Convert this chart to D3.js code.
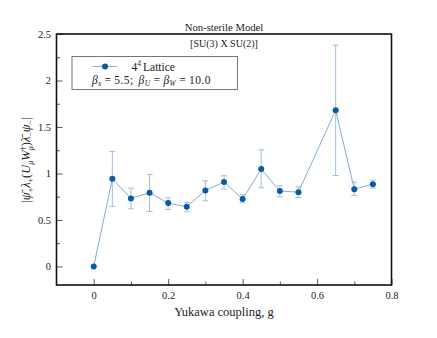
<!DOCTYPE html>
<html lang="en">
<head>
    <meta charset="UTF-8">
    <title>Non-sterile Model</title>
    <script src="https://d3js.org/d3.v7.min.js"></script>
    <style>
        body{ margin:0; background:#fff; }
        text{ font-family: "Liberation Serif", "DejaVu Serif", serif; fill:#222; }
        .tick text{ font-size:10.5px; }
    </style>
</head>
<body>
<svg width="437" height="338"></svg>
<script>
    // values
    const gValues = [0, 0.05, 0.1, 0.15, 0.2, 0.25, 0.3, 0.35, 0.4, 0.45, 0.5, 0.55, 0.65, 0.7, 0.75];
    const condValues = [0, 0.943, 0.731, 0.792, 0.681, 0.642, 0.817, 0.907, 0.724, 1.047, 0.81, 0.799, 1.681, 0.831, 0.885];
    const errLow = [0, 0.645, 0.62, 0.591, 0.613, 0.588, 0.706, 0.832, 0.685, 0.846, 0.749, 0.742, 0.978, 0.763, 0.842];
    const errHigh = [0, 1.237, 0.842, 0.989, 0.738, 0.688, 0.921, 0.975, 0.771, 1.254, 0.867, 0.857, 2.38, 0.907, 0.928];
    const xTicks = [0, 0.2, 0.4, 0.6, 0.8];
    const yTicks = [0, 0.5, 1, 1.5, 2, 2.5];

    const data = gValues.map((g, i) => ({g: g, v: condValues[i], lo: errLow[i], hi: errHigh[i]}));

    const svg = d3.select("svg");
    const mLeft = 56.5, mRight = 391.5, mTop = 34, mBottom = 285;

    const x = d3.scaleLinear().domain([-0.1, 0.8]).range([mLeft, mRight]);
    const y = d3.scaleLinear().domain([-0.2, 2.5]).range([mBottom, mTop]);

    const lineCol = "#86abd6", errCol = "#9fbfe2", dotCol = "#0b5aa2";

    // minor ticks
    svg.append("g").attr("transform", `translate(0,${mBottom})`)
        .call(d3.axisBottom(x).tickValues([0.1, 0.3, 0.5, 0.7]).tickSize(-3.5).tickFormat(""))
        .call(g => g.select(".domain").remove());
    svg.append("g").attr("transform", `translate(${mLeft},0)`)
        .call(d3.axisLeft(y).tickValues([0.25, 0.75, 1.25, 1.75, 2.25]).tickSize(-3.5).tickFormat(""))
        .call(g => g.select(".domain").remove());

    // major ticks
    svg.append("g").attr("transform", `translate(0,${mBottom})`)
        .call(d3.axisBottom(x).tickValues(xTicks).tickSize(-6).tickPadding(6.5).tickFormat(d3.format("")))
        .call(g => g.select(".domain").remove());
    svg.append("g").attr("transform", `translate(${mLeft},0)`)
        .call(d3.axisLeft(y).tickValues(yTicks).tickSize(-6).tickPadding(5.5).tickFormat(d3.format("")))
        .call(g => g.select(".domain").remove());

    svg.selectAll(".tick line").attr("stroke", "#333").attr("stroke-width", 0.8);

    // frame
    svg.append("rect").attr("x", mLeft).attr("y", mTop)
        .attr("width", mRight - mLeft).attr("height", mBottom - mTop)
        .attr("fill", "none").attr("stroke", "#111").attr("stroke-width", 1.6);

    // error bars
    const eb = svg.append("g").attr("stroke", errCol).attr("stroke-width", 1);
    data.filter(d => d.hi > d.lo).forEach(d => {
        eb.append("line").attr("x1", x(d.g)).attr("x2", x(d.g)).attr("y1", y(d.lo)).attr("y2", y(d.hi));
        [d.lo, d.hi].forEach(e => {
            eb.append("line").attr("x1", x(d.g) - 3).attr("x2", x(d.g) + 3).attr("y1", y(e)).attr("y2", y(e));
        });
    });

    // line
    svg.append("path").datum(data)
        .attr("d", d3.line().x(d => x(d.g)).y(d => y(d.v)))
        .attr("fill", "none").attr("stroke", lineCol).attr("stroke-width", 1);

    svg.selectAll(".dot").data(data).enter().append("circle")
        .attr("cx", d => x(d.g)).attr("cy", d => y(d.v)).attr("r", 3)
        .attr("fill", dotCol);

    // titles
    svg.append("text").attr("x", 224).attr("y", 31).attr("text-anchor", "middle")
        .attr("font-size", 10.7).text("Non-sterile Model");
    svg.append("text").attr("x", 224).attr("y", 46.5).attr("text-anchor", "middle")
        .attr("font-size", 10).text("[SU(3) X SU(2)]");

    // legend
    svg.append("rect").attr("x", 72).attr("y", 56.5).attr("width", 165.5).attr("height", 33)
        .attr("fill", "#fff").attr("stroke", "#555").attr("stroke-width", 0.8);
    svg.append("line").attr("x1", 93).attr("x2", 117).attr("y1", 66.5).attr("y2", 66.5)
        .attr("stroke", lineCol).attr("stroke-width", 1);
    svg.append("circle").attr("cx", 105).attr("cy", 66.5).attr("r", 3).attr("fill", dotCol);
    const l1 = svg.append("text").attr("x", 131.5).attr("y", 70.5).attr("font-size", 11.5);
    l1.append("tspan").text("4");
    l1.append("tspan").attr("dy", -4.5).attr("font-size", 7.5).text("4");
    l1.append("tspan").attr("dy", 4.5).attr("dx", 2).text("Lattice");
    const l2 = svg.append("text").attr("x", 92).attr("y", 84).attr("font-size", 11.5)
        .attr("letter-spacing", 0.4);
    l2.append("tspan").attr("font-style", "italic").text("β");
    l2.append("tspan").attr("dy", 2).attr("font-size", 7.5).attr("font-style", "italic").text("s");
    l2.append("tspan").attr("dy", -2).attr("dx", 3).text("=");
    l2.append("tspan").attr("dx", 3).text("5.5;");
    l2.append("tspan").attr("dx", 5).attr("font-style", "italic").text("β");
    l2.append("tspan").attr("dy", 2).attr("font-size", 7.5).attr("font-style", "italic").text("U");
    l2.append("tspan").attr("dy", -2).attr("dx", 3).text("=");
    l2.append("tspan").attr("dx", 3).attr("font-style", "italic").text("β");
    l2.append("tspan").attr("dy", 2).attr("font-size", 7.5).attr("font-style", "italic").text("W");
    l2.append("tspan").attr("dy", -2).attr("dx", 3).text("=");
    l2.append("tspan").attr("dx", 3).text("10.0");

    // x label
    svg.append("text").attr("x", 224).attr("y", 316).attr("text-anchor", "middle")
        .attr("font-size", 12.5).text("Yukawa coupling, g");

    // y label
    const yl = svg.append("text").attr("transform", "translate(30,160) rotate(-90)")
        .attr("text-anchor", "middle").attr("font-size", 12.5).attr("font-style", "italic");
    yl.append("tspan").attr("font-style", "normal").text("|");
    yl.append("tspan").text("ψ̄");
    yl.append("tspan").attr("dy", 2.5).attr("font-size", 8).attr("font-style", "normal").text("+");
    yl.append("tspan").attr("dy", -2.5).text("λ");
    yl.append("tspan").attr("dy", 2.5).attr("font-size", 8).attr("font-style", "normal").text("+");
    yl.append("tspan").attr("dy", -2.5).attr("font-style", "normal").text("(");
    yl.append("tspan").text("U");
    yl.append("tspan").attr("dy", 2.5).attr("font-size", 8).text("μ");
    yl.append("tspan").attr("dy", -2.5).text("W");
    yl.append("tspan").attr("dy", -4.5).attr("font-size", 8).attr("font-style", "normal").text("†");
    yl.append("tspan").attr("dx", -4).attr("dy", 7).attr("font-size", 8).text("μ");
    yl.append("tspan").attr("dy", -2.5).attr("font-style", "normal").text(")");
    yl.append("tspan").text("λ̄");
    yl.append("tspan").attr("dy", 2.5).attr("font-size", 8).attr("font-style", "normal").text("−");
    yl.append("tspan").attr("dy", -2.5).text("ψ");
    yl.append("tspan").attr("dy", 2.5).attr("font-size", 8).attr("font-style", "normal").text("−");
    yl.append("tspan").attr("dy", -2.5).attr("font-style", "normal").text("|");
</script>
</body>
</html>
